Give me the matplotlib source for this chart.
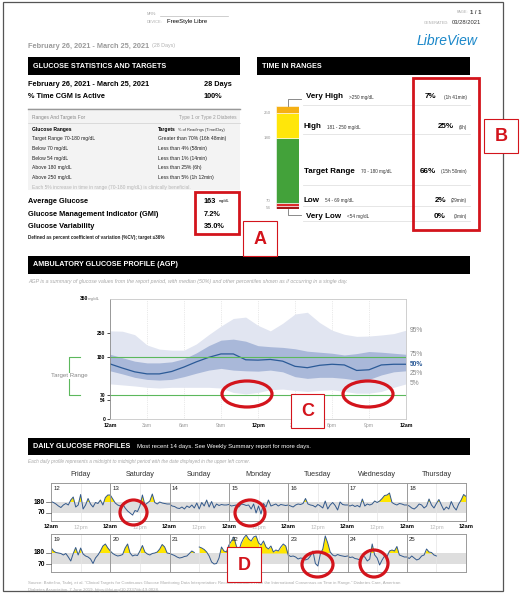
import matplotlib
matplotlib.use("Agg")
import matplotlib.pyplot as plt
import numpy as np
from matplotlib.patches import Rectangle, Ellipse
from matplotlib.lines import Line2D

plt.rcParams["font.family"] = ["Liberation Sans", "DejaVu Sans"]

# ---------------- data ----------------
report_period = "February 26, 2021 - March 25, 2021"
stat_names = ["Average Glucose", "Glucose Management Indicator (GMI)", "Glucose Variability"]
stat_values = ["163", "7.2%", "35.0%"]

target_ranges = ["Target Range 70-180 mg/dL", "Below 70 mg/dL", "Below 54 mg/dL",
                 "Above 180 mg/dL", "Above 250 mg/dL"]
target_goals = ["Greater than 70% (16h 48min)", "Less than 4% (58min)", "Less than 1% (14min)",
                "Less than 25% (6h)", "Less than 5% (1h 12min)"]

tir_labels = ["Very High", "High", "Target Range", "Low", "Very Low"]
tir_ranges = [">250 mg/dL", "181 - 250 mg/dL", "70 - 180 mg/dL", "54 - 69 mg/dL", "<54 mg/dL"]
tir_pct = [7, 25, 66, 2, 0]
tir_time = ["(1h 41min)", "(6h)", "(15h 50min)", "(29min)", "(0min)"]
tir_bounds = ["250", "180", "70", "54"]
tir_colors = ["#f5b014", "#ffe60a", "#43a23a", "#dc2b2b", "#a51818"]

agp_hours = list(range(25))
agp_p95 = [256, 255, 245, 215, 203, 200, 200, 218, 245, 270, 292, 296, 272, 256, 278, 305, 310, 280, 258, 246, 240, 241, 244, 248, 258]
agp_p75 = [188, 178, 168, 163, 163, 166, 175, 192, 213, 229, 232, 226, 213, 210, 208, 204, 197, 194, 191, 186, 190, 196, 194, 191, 188]
agp_p50 = [160, 148, 137, 131, 131, 138, 151, 166, 179, 189, 189, 172, 171, 173, 168, 153, 149, 156, 159, 157, 141, 143, 157, 159, 159]
agp_p25 = [140, 131, 121, 115, 113, 115, 123, 133, 142, 147, 142, 140, 139, 142, 137, 123, 118, 121, 121, 118, 113, 115, 128, 137, 140]
agp_p5 = [102, 99, 96, 92, 90, 92, 92, 92, 92, 90, 77, 73, 77, 85, 87, 83, 80, 83, 85, 80, 75, 75, 80, 92, 102]
agp_xlabels = ["12am", "3am", "6am", "9am", "12pm", "3pm", "6pm", "9pm", "12am"]

weekdays = ["Friday", "Saturday", "Sunday", "Monday", "Tuesday", "Wednesday", "Thursday"]
day_numbers = [12, 13, 14, 15, 16, 17, 18, 19, 20, 21, 22, 23, 24, 25]
nan = np.nan
daily_glucose = [
    [185, 175, 160, 140, 125, 150, 165, 150, 200, 230, 130, 150, 255, 110, 150, 215, 160, 130, 175, 165, 200, 150, 225, 250],
    [250, 210, 170, 150, 140, 160, 120, 90, 70, 50, 95, 85, 140, 250, 150, 170, 190, 260, 175, 160, 180, 170, 165, 160],
    [160, 140, 135, 120, 115, 130, 110, 140, 125, 150, 120, 170, 110, 175, 140, 200, 130, 185, 120, 160, 145, 155, 150, 150],
    [155, 140, 145, 150, 130, 160, 155, 145, 150, 110, 160, 70, 140, 60, 165, 130, 200, 140, 150, 160, 140, 155, 150, 145],
    [150, 140, 130, 150, 160, 155, 165, 215, 160, 150, 145, 130, 155, 140, 120, 190, 110, 150, 175, 145, 100, 180, 155, 150],
    [150, 140, 150, 135, 145, 130, 210, 140, 160, 150, 160, 190, 175, 190, 215, 245, 250, 270, 175, 160, 150, 165, 160, 150],
    [150, 140, 120, 110, 130, 160, 150, 120, 140, 210, 150, 120, 165, 205, 150, 100, 130, 110, 185, 130, 100, 160, 200, 255],
    [235, 200, 185, 180, 175, 160, 175, 140, 100, 175, 235, 160, 230, 170, 150, 140, 120, 75, 130, 160, 200, 250, 270, 230],
    [200, 175, 160, 150, 155, 165, 230, 270, 180, 150, 160, 155, 200, 255, 190, 170, 160, 175, 180, 190, 220, 265, 240, 180],
    [175, 165, 155, 140, 130, 135, 145, 150, 175, 200, 185, nan, 240, 230, 215, 190, 150, 90, 70, 75, 130, 240, 200, 190],
    [260, 300, 340, 250, 200, 280, 330, 360, 320, 300, 340, 350, 280, 260, 300, 240, 220, 250, 190, 210, 200, 240, 270, 250],
    [160, 145, 150, 140, 120, 130, 125, 110, 120, 150, 200, 75, 50, 170, 220, 350, 280, 190, 160, 150, 165, 155, 150, 145],
    [150, 135, 140, 125, 120, 110, 150, 140, 100, 120, 270, 160, 130, 60, 110, 150, 145, 200, 210, 200, 245, 160, 150, 140],
    [140, 125, 150, 130, 110, 120, 150, 160, 220, 190, 185, 160, 150, nan, nan, nan, nan, nan, nan, nan, nan, nan, nan, nan],
]

# ---------------- helpers (pixel coords, origin top-left) ----------------
W, H = 520, 593
fig = plt.figure(figsize=(W / 100, H / 100), dpi=100)
RED = "#d3141c"


def fx(x):
    return x / W


def fy(y):
    return 1 - y / H


def txt(x, y, s, size=5, **kw):
    kw.setdefault("va", "center")
    return fig.text(fx(x), fy(y), s, fontsize=size, **kw)


def rect(x0, y0, x1, y1, **kw):
    fig.add_artist(Rectangle((fx(x0), fy(y1)), (x1 - x0) / W, (y1 - y0) / H,
                             transform=fig.transFigure, **kw))


def line(xs, ys, **kw):
    fig.add_artist(Line2D([fx(v) for v in xs], [fy(v) for v in ys],
                          transform=fig.transFigure, **kw))


def axes_px(x0, y0, x1, y1):
    return fig.add_axes([fx(x0), fy(y1), (x1 - x0) / W, (y1 - y0) / H])


def ellipse(cx, cy, w, h):
    fig.add_artist(Ellipse((fx(cx), fy(cy)), w / W, h / H, transform=fig.transFigure,
                           fill=False, ec=RED, lw=2.3, zorder=5))


def letter_box(x0, y0, x1, y1, s):
    rect(x0, y0, x1, y1, fc="white", ec=RED, lw=0.8, zorder=5)
    txt((x0 + x1) / 2, (y0 + y1) / 2 + 1, s, size=13, color=RED, ha="center",
        fontweight="bold", zorder=6)


def header_bar(x0, y0, x1, y1, title, sub=None, sub_x=None):
    rect(x0, y0, x1, y1, fc="black", ec="none")
    txt(x0 + 5, (y0 + y1) / 2, title, size=5.2, color="white", fontweight="bold")
    if sub:
        txt(sub_x, (y0 + y1) / 2, sub, size=4.3, color="white")


# page frame
rect(3, 2, 503, 591, fc="none", ec="#555555", lw=0.9)

# ---------------- page header ----------------
txt(147, 14, "MRN:", size=2.8, color="#aaaaaa")
line([160, 228], [15.5, 15.5], color="#bbbbbb", lw=0.5)
txt(147, 22, "DEVICE:", size=2.8, color="#aaaaaa")
txt(167, 22, "FreeStyle Libre", size=4.2)
txt(468, 12, "PAGE:", size=2.8, color="#aaaaaa", ha="right")
txt(481, 12, "1 / 1", size=4.2, ha="right", fontweight="bold", color="#444444")
txt(449, 23, "GENERATED:", size=2.8, color="#aaaaaa", ha="right")
txt(481, 23, "03/28/2021", size=4.2, ha="right", color="#333333")
txt(477, 41, "LibreView", size=10, color="#1a87c9", ha="right", style="italic")

txt(28, 46, report_period, size=5.3, color="#9a9a9a", fontweight="bold")
txt(152, 46, "(28 Days)", size=3.8, color="#b0b0b0")

# ---------------- glucose statistics ----------------
header_bar(28, 57, 240, 75, "GLUCOSE STATISTICS AND TARGETS")
txt(28, 84, report_period, size=5.3, fontweight="bold")
txt(204, 84, "28 Days", size=5.3, fontweight="bold")
txt(28, 97, "% Time CGM is Active", size=5.3, fontweight="bold")
txt(204, 97, "100%", size=5.3, fontweight="bold")

rect(28, 108, 240, 190, fc="#f3f3f3", ec="none")
line([28, 240], [108.5, 108.5], color="#999999", lw=1.0)
txt(32, 117, "Ranges And Targets For", size=3.5, color="#888888")
txt(237, 117, "Type 1 or Type 2 Diabetes", size=3.5, color="#999999", ha="right")
line([28, 240], [123, 123], color="#d0d0d0", lw=0.5)
txt(32, 130, "Glucose Ranges", size=3.6, fontweight="bold")
txt(158, 130, "Targets", size=3.6, fontweight="bold")
txt(178, 130, "% of Readings (Time/Day)", size=2.9, color="#333333")
for k, (rng, goal) in enumerate(zip(target_ranges, target_goals)):
    yy = 138.5 + k * 9.8
    txt(32, yy, rng, size=3.6, color="#222222")
    txt(158, yy, goal, size=3.6, color="#222222")
txt(32, 187, "Each 5% increase in time in range (70-180 mg/dL) is clinically beneficial.",
    size=3.5, color="#b5b5b5")

for k, (name, val) in enumerate(zip(stat_names, stat_values)):
    yy = 201 + k * 13
    txt(28, yy, name, size=5.3, fontweight="bold")
    txt(204, yy, val, size=5.3, fontweight="bold")
txt(219, 201.5, "mg/dL", size=2.8)
txt(28, 237, "Defined as percent coefficient of variation (%CV); target \u226436%",
    size=3.3, fontweight="bold", color="#222222")

# ---------------- time in ranges ----------------
header_bar(257, 57, 470, 75, "TIME IN RANGES")

ax_bar = axes_px(276, 106, 299, 209)
seg_heights = [max(p, 3) for p in tir_pct][::-1]
seg_colors = tir_colors[::-1]
bottom = 0
tops = []
for hgt, col in zip(seg_heights, seg_colors):
    ax_bar.bar(0, hgt, bottom=bottom, width=1, color=col, edgecolor="white", linewidth=0.4)
    bottom += hgt
    tops.append(bottom)
ax_bar.set_xlim(-0.5, 0.5)
ax_bar.set_ylim(0, bottom)
ax_bar.set_xticks([])
ax_bar.set_yticks([])
label_nudge = [0, 0, 1.6, -1.6]
for lbl, top, dy in zip(tir_bounds, tops[:4][::-1], label_nudge):
    ax_bar.annotate(lbl, xy=(0, top), xycoords=("axes fraction", "data"),
                    xytext=(-4, dy), textcoords="offset points", ha="right", va="center",
                    fontsize=3.2, color="#999999")
for sp in ax_bar.spines.values():
    sp.set_visible(False)

line([288, 288, 301], [106, 99, 99], color="#777777", lw=0.6)
line([288, 288, 301], [209, 215, 215], color="#777777", lw=0.6)

row_y = [97, 127, 171, 200, 216]
row_x = [306, 304, 304, 304, 306]
range_x = [349, 327, 361, 325, 347]
pct_x = [436, 454, 436, 446, 446]
sep_y = [105, 134, 185, 206, 221]
for k in range(5):
    txt(row_x[k], row_y[k], tir_labels[k], size=5.8, fontweight="bold")
    txt(range_x[k], row_y[k] + 0.5, tir_ranges[k], size=3.3, color="#333333")
    txt(pct_x[k], row_y[k], f"{tir_pct[k]}%", size=5.8, fontweight="bold", ha="right")
    txt(467, row_y[k] + 0.5, tir_time[k], size=3.4, color="#333333", ha="right")
    line([303, 470], [sep_y[k], sep_y[k]], color="#e2e2e2", lw=0.6)

# ---------------- AGP ----------------
header_bar(28, 256, 470, 274, "AMBULATORY GLUCOSE PROFILE (AGP)")
txt(28, 281, "AGP is a summary of glucose values from the report period, with median (50%) and other "
    "percentiles shown as if occurring in a single day.", size=3.8, color="#a8a8a8", style="italic")

ax = axes_px(110, 298.5, 406, 419)
ax.fill_between(agp_hours, agp_p5, agp_p95, color="#e1e5f1", lw=0)
ax.fill_between(agp_hours, agp_p25, agp_p75, color="#a9b8d9", lw=0)
ax.plot(agp_hours, agp_p50, color="#2b5a97", lw=0.9)
ax.plot([0, 24], [180, 180], color="#5cb85c", lw=0.8)
ax.plot([0, 24], [70, 70], color="#5cb85c", lw=0.8)
for hh in range(3, 24, 3):
    ax.axvline(hh, color="#d5d5d5", lw=0.5, ls=":", zorder=0)
ax.set_xlim(0, 24)
ax.set_ylim(0, 350)
ax.set_yticks([0, 54, 70, 180, 250])
ax.set_yticklabels(["0", "54", "70", "180", "250"], fontsize=3.6, fontweight="bold")
ax.set_xticks(range(0, 25, 3))
ax.set_xticklabels(agp_xlabels, fontsize=3.7)
for k, lab in enumerate(ax.get_xticklabels()):
    if agp_xlabels[k] in ("12am", "12pm"):
        lab.set_fontweight("bold")
    else:
        lab.set_color("#999999")
ax.tick_params(axis="y", length=2, width=0.5, pad=1.5)
ax.tick_params(axis="x", length=0, pad=3)
for name, sp in ax.spines.items():
    sp.set_color("#c8c8c8")
    sp.set_linewidth(0.6)
ax.spines["left"].set_color("#888888")

pct_names = ["95%", "75%", "50%", "25%", "5%"]
pct_nudge = [0, 0, 0, -1.8, 0]
for name, curve, dy in zip(pct_names, [agp_p95, agp_p75, agp_p50, agp_p25, agp_p5], pct_nudge):
    bold = name == "50%"
    ax.annotate(name, xy=(24, curve[-1]), xytext=(3, dy), textcoords="offset points",
                fontsize=4.8, va="center", annotation_clip=False,
                color="#2b5a97" if bold else "#888888", fontweight="bold" if bold else "normal")

txt(88, 299, "350", size=3.6, fontweight="bold", ha="right")
txt(88, 299, "mg/dL", size=3.2, color="#888888")

# target range bracket
line([80, 69, 69, 80], [357, 357, 395, 395], color="#5cb85c", lw=0.8)
txt(69, 376, "Target Range", size=4.4, color="#888888", ha="center",
    bbox=dict(fc="white", ec="none", pad=0.6))

# ---------------- daily glucose profiles ----------------
header_bar(28, 438, 470, 455, "DAILY GLUCOSE PROFILES",
           "Most recent 14 days. See Weekly Summary report for more days.", 137)
txt(28, 462, "Each daily profile represents a midnight to midnight period with the date displayed "
    "in the upper left corner.", size=3.4, color="#a8a8a8", style="italic")

panel_left, panel_w = 51, 59.3
row_tops = [483, 534]
for c, day in enumerate(weekdays):
    txt(panel_left + (c + 0.5) * panel_w, 474, day, size=5.2, ha="center", color="#333333")

hx = np.arange(25)
for i in range(14):
    r, c = divmod(i, 7)
    x0 = panel_left + c * panel_w
    y0 = row_tops[r]
    a = axes_px(x0, y0, x0 + panel_w, y0 + 38)
    nxt = daily_glucose[i + 1][0] if i < 13 else nan
    g = np.array(daily_glucose[i] + [nxt], dtype=float)
    a.axhspan(70, 180, color="#dedede", lw=0)
    a.axvline(12, color="#e4e4e4", lw=0.5)
    a.fill_between(hx, g, 180, where=g > 180, interpolate=True, color="#ffe600", lw=0)
    a.fill_between(hx, g, 54, where=g < 54, interpolate=True, color="#b01a2a", lw=0)
    a.plot(hx, g, color="#33598c", lw=0.7)
    a.set_xlim(0, 24)
    a.set_ylim(-10, 370)
    a.set_xticks([])
    a.set_yticks([])
    for sp in a.spines.values():
        sp.set_color("#9a9a9a")
        sp.set_linewidth(0.7)
    a.text(0.04, 0.86, str(day_numbers[i]), transform=a.transAxes, fontsize=4.4,
           va="center", color="#222222")

for r, y0 in enumerate(row_tops):
    for val in (180, 70):
        yy = y0 + (370 - val) / 380 * 38
        txt(45, yy, str(val), size=4.8, fontweight="bold", ha="right")
        line([46, 51], [yy, yy], color="#555555", lw=0.5)

for c in range(8):
    xb = panel_left + c * panel_w
    txt(xb, 527, "12am", size=4.2, fontweight="bold", ha="center")
    if c < 7:
        txt(xb + panel_w / 2, 527, "12pm", size=4.2, color="#bbbbbb", ha="center")

txt(28, 583, "Source: Battelino, Tadej, et al. \u201cClinical Targets for Continuous Glucose Monitoring Data "
    "Interpretation: Recommendations From the International Consensus on Time in Range.\u201d "
    "Diabetes Care, American", size=3.1, color="#aaaaaa")
txt(28, 590, "Diabetes Association, 7 June 2019, https://doi.org/10.2337/dci19-0028.",
    size=3.1, color="#aaaaaa")

# ---------------- annotations ----------------
rect(195, 192, 239, 234, fc="none", ec=RED, lw=2.0, zorder=5)
letter_box(243, 221, 277, 256, "A")
rect(413, 78, 479, 230, fc="none", ec=RED, lw=2.0, zorder=5)
letter_box(484, 119, 518, 153, "B")
ellipse(247, 394, 50, 26)
ellipse(368, 394, 50, 26)
letter_box(291, 394, 324, 428, "C")
ellipse(133.5, 512.5, 27, 25)
ellipse(250, 513, 30, 26)
ellipse(317.5, 564.5, 31, 25)
ellipse(374, 563.5, 28, 27)
letter_box(227, 547, 261, 582, "D")

fig.savefig("out.png", dpi=100)
